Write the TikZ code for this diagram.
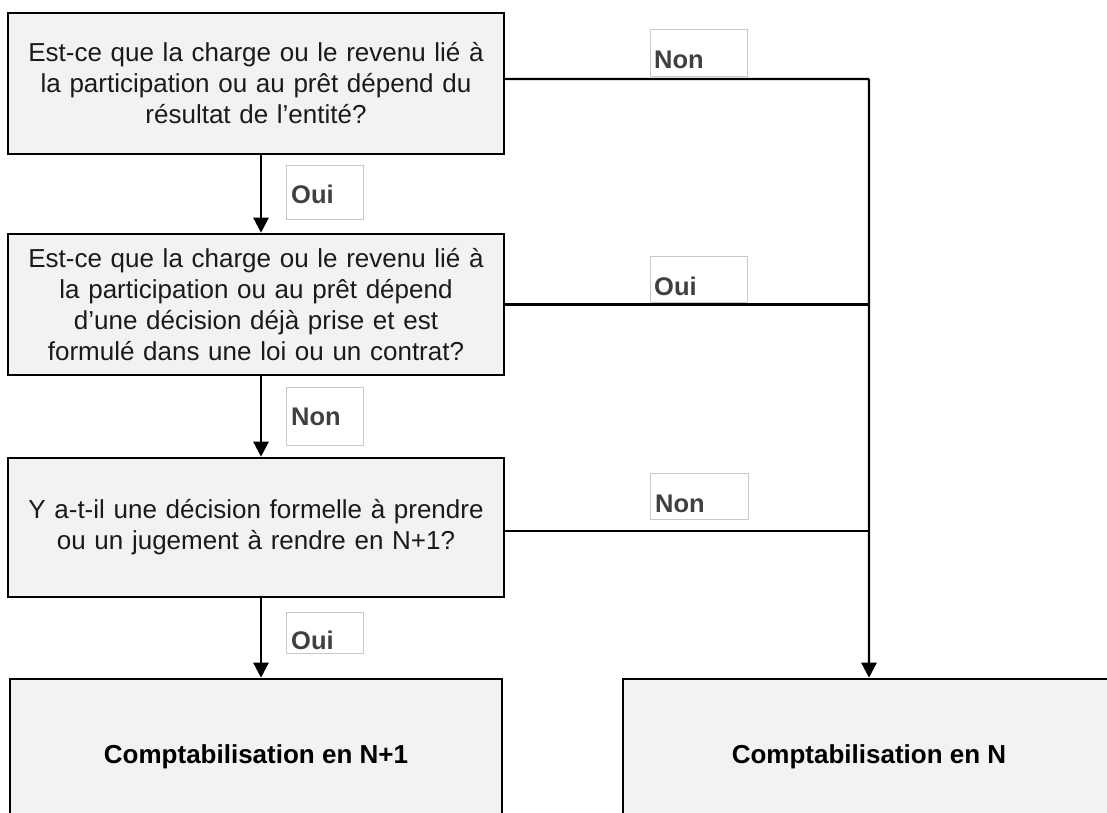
\documentclass[tikz,border=0pt]{standalone}
\usepackage{fontspec}
\setmainfont{Liberation Sans}
\usetikzlibrary{arrows.meta}
\definecolor{boxfill}{HTML}{F2F2F2}
\definecolor{lblborder}{HTML}{C8C8C8}
\definecolor{lbltext}{HTML}{404040}
\definecolor{maintext}{HTML}{1A1A1A}
\tikzset{
  qbox/.style={draw=black, line width=2.6pt, fill=boxfill, minimum width=496pt, align=center, text width=486pt, inner sep=0pt, text=maintext, font=\fontsize{26}{31}\selectfont},
  endbox/.style={draw=black, line width=2.6pt, fill=boxfill, minimum width=492pt, minimum height=156pt, inner sep=0pt, font=\fontsize{26}{31}\selectfont\bfseries},
  lblbox/.style={draw=lblborder, line width=0.9pt, fill=white, inner sep=0pt},
  lbltxt/.style={inner sep=0pt, text=lbltext, font=\fontsize{25.5}{31}\selectfont\bfseries, anchor=base west},
  conn/.style={draw=black, line width=2.4pt},
  arr/.style={conn, -{Triangle[width=15pt,length=15pt]}},
}
\begin{document}
\begin{tikzpicture}[x=1pt,y=-1pt]
\useasboundingbox (0,0) rectangle (1107,812);
\clip (0,0) rectangle (1107,812);
% question boxes
\node[qbox, minimum height=141pt] (b1) at (256,83.5) {Est-ce que la charge ou le revenu lié à\\la participation ou au prêt dépend du\\résultat de l’entité?};
\node[qbox, minimum height=141pt] (b2) at (256,304.5) {Est-ce que la charge ou le revenu lié à\\la participation ou au prêt dépend\\d’une décision déjà prise et est\\formulé dans une loi ou un contrat?};
\node[qbox, minimum height=139pt] (b3) at (256,527.5) {Y a-t-il une décision formelle à prendre\\ou un jugement à rendre en N+1?};
% result boxes
\node[endbox] (b4) at (256,757) {Comptabilisation en N+1};
\node[endbox] (b5) at (869,757) {Comptabilisation en N};
% right trunk
\coordinate (t1) at (504,79);
\draw[arr, rounded corners=1pt] (t1) -| (b5.north);
\draw[conn] (b2.east) -- (b2.east -| b5.north);
\draw[conn] ([yshift=-3.5pt]b3.east) -- ([yshift=-3.5pt]b3.east -| b5.north);
% left arrows
\draw[arr] ([xshift=5pt]b1.south) -- ([xshift=5pt]b2.north);
\draw[arr] ([xshift=5pt]b2.south) -- ([xshift=5pt]b3.north);
\draw[arr] ([xshift=5pt]b3.south) -- ([xshift=5pt]b4.north);
% labels
\node[lblbox, minimum width=77pt, minimum height=54pt] (l1) at (324.5,192) {};
\node[lbltxt] (l1t) at (291,203) {Oui};
\node[lblbox, minimum width=77pt, minimum height=58pt] (l2) at (324.5,416) {};
\node[lbltxt] (l2t) at (291,425) {Non};
\node[lblbox, minimum width=77pt, minimum height=41pt] (l3) at (324.5,632.5) {};
\node[lbltxt] (l3t) at (291,649) {Oui};
\node[lblbox, minimum width=97pt, minimum height=47pt] (r1) at (698.5,52.5) {};
\node[lbltxt] (r1t) at (654,68) {Non};
\node[lblbox, minimum width=97pt, minimum height=46pt] (r2) at (698.5,279) {};
\node[lbltxt] (r2t) at (654,295) {Oui};
\node[lblbox, minimum width=98pt, minimum height=46pt] (r3) at (699,496) {};
\node[lbltxt] (r3t) at (655,512) {Non};
\end{tikzpicture}
\end{document}
